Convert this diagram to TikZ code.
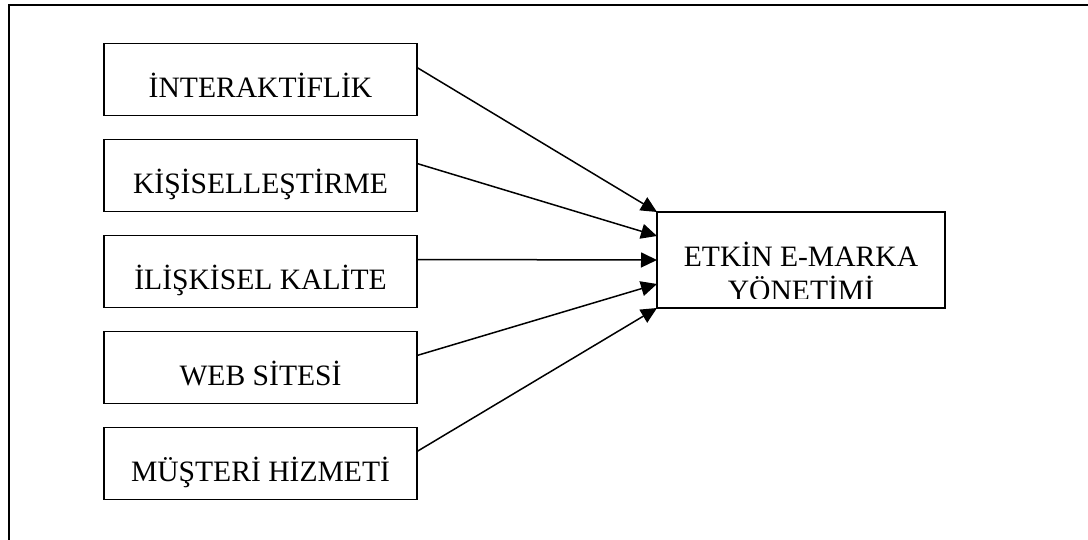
\documentclass[tikz,border=0pt]{standalone}
\usepackage{fontspec}
\setmainfont{Liberation Serif}
\usetikzlibrary{arrows.meta,calc}

\tikzset{
    kutu/.style={draw, line width=0.8pt, minimum width=156.5pt, minimum height=36pt,
        inner sep=0pt, outer sep=0pt, text height=18pt, text depth=0pt,
        font=\fontsize{14.8}{17}\selectfont},
    ok/.style={line width=0.75pt, -{Triangle[length=8pt,width=7.5pt]}}
}

\begin{document}
\begin{tikzpicture}[x=0.5pt,y=-0.5pt]
        \useasboundingbox (0,0) rectangle (1088,540);

        % outer frame
        \draw[line width=0.9pt] (9,540) -- (9,5) -- (1088,5);

        \node[kutu] (k1) at (260.5,79.5) {İNTERAKTİFLİK};
        \node[kutu] (k2) at (260.5,175.5) {KİŞİSELLEŞTİRME};
        \node[kutu] (k3) at (260.5,271.5) {İLİŞKİSEL KALİTE};
        \node[kutu] (k4) at (260.5,367.5) {WEB SİTESİ};
        \node[kutu] (k5) at (260.5,463.5) {MÜŞTERİ HİZMETİ};

        \node[draw, line width=0.8pt, minimum width=144pt, minimum height=48pt, inner sep=0pt, outer sep=0pt] (hedef) at (801,260) {};

        % text of the target box, cut off at the bottom
        \begin{scope}
            \clip ($(hedef.south west)+(0,5pt)$) rectangle (hedef.north east);
            \node[anchor=base, yshift=-20pt, align=center, inner sep=0pt, font=\fontsize{14.8}{17}\selectfont] (hedefyazi) at (hedef.center) {ETKİN E-MARKA\\YÖNETİMİ};
        \end{scope}

        \draw[ok] ([yshift=6pt]k1.east) -- (hedef.north west);
        \draw[ok] ([yshift=6pt]k2.east) -- ($(hedef.north west)!0.25!(hedef.south west)$);
        \draw[ok] ([yshift=6pt]k3.east) -- ($(hedef.north west)!0.5!(hedef.south west)$);
        \draw[ok] ([yshift=6pt]k4.east) -- ($(hedef.north west)!0.75!(hedef.south west)$);
        \draw[ok] ([yshift=6pt]k5.east) -- (hedef.south west);
\end{tikzpicture}
\end{document}
